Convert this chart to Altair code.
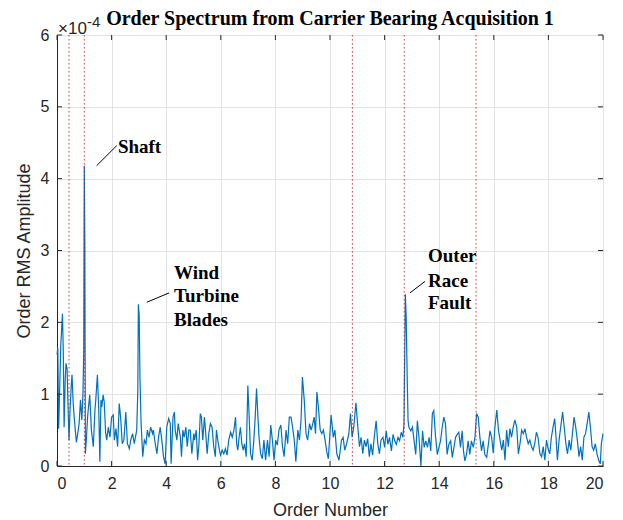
import altair as alt
import pandas as pd

# Spectrum (order number, amplitude in units of 1e-4)
orders = [0.0, 0.03, 0.06, 0.1, 0.14, 0.2, 0.23, 0.26, 0.3, 0.33, 0.37, 0.4, 0.44, 0.48, 0.52, 0.55, 0.59, 0.63, 0.67, 0.71,
          0.76, 0.81, 0.86, 0.91, 0.95, 0.98, 1.0, 1.02, 1.04, 1.08, 1.12, 1.16, 1.2, 1.26, 1.33, 1.39, 1.42, 1.48, 1.53, 1.57,
          1.61, 1.64, 1.69, 1.73, 1.78, 1.82, 1.88, 1.94, 2.0, 2.06, 2.1, 2.16, 2.22, 2.28, 2.33, 2.39, 2.45, 2.52, 2.58, 2.65,
          2.7, 2.77, 2.83, 2.92, 2.96, 2.98, 3.01, 3.04, 3.08, 3.14, 3.2, 3.26, 3.31, 3.37, 3.43, 3.5, 3.53, 3.6, 3.66, 3.72,
          3.78, 3.84, 3.9, 3.96, 4.02, 4.09, 4.15, 4.18, 4.25, 4.3, 4.33, 4.39, 4.44, 4.52, 4.56, 4.61, 4.66, 4.72, 4.77, 4.83,
          4.88, 4.94, 5.01, 5.04, 5.1, 5.15, 5.2, 5.25, 5.29, 5.34, 5.4, 5.44, 5.5, 5.56, 5.62, 5.68, 5.74, 5.8, 5.84, 5.89,
          5.95, 5.99, 6.05, 6.11, 6.17, 6.23, 6.29, 6.36, 6.42, 6.48, 6.54, 6.58, 6.62, 6.67, 6.72, 6.77, 6.82, 6.87, 6.93, 6.99,
          7.04, 7.09, 7.15, 7.21, 7.26, 7.31, 7.36, 7.4, 7.46, 7.52, 7.58, 7.64, 7.71, 7.77, 7.83, 7.89, 7.95, 8.01, 8.07, 8.13,
          8.2, 8.26, 8.32, 8.39, 8.45, 8.51, 8.57, 8.63, 8.69, 8.75, 8.82, 8.88, 8.94, 8.99, 9.06, 9.12, 9.18, 9.25, 9.31, 9.37,
          9.42, 9.47, 9.52, 9.58, 9.64, 9.7, 9.76, 9.82, 9.88, 9.94, 10.04, 10.12, 10.18, 10.25, 10.33, 10.42, 10.48, 10.54, 10.61, 10.69,
          10.75, 10.81, 10.87, 10.95, 11.02, 11.08, 11.14, 11.2, 11.26, 11.32, 11.38, 11.44, 11.5, 11.56, 11.62, 11.69, 11.75, 11.81, 11.87, 11.94,
          12.0, 12.06, 12.12, 12.18, 12.25, 12.31, 12.37, 12.43, 12.49, 12.55, 12.61, 12.67, 12.71, 12.76, 12.79, 12.83, 12.86, 12.89, 12.96, 13.02,
          13.08, 13.14, 13.2, 13.26, 13.33, 13.39, 13.45, 13.51, 13.57, 13.63, 13.69, 13.75, 13.8, 13.86, 13.93, 13.99, 14.05, 14.11, 14.17, 14.23,
          14.29, 14.35, 14.42, 14.48, 14.54, 14.6, 14.66, 14.72, 14.78, 14.84, 14.89, 14.94, 15.0, 15.06, 15.12, 15.18, 15.25, 15.31, 15.37, 15.43,
          15.49, 15.55, 15.61, 15.67, 15.74, 15.8, 15.86, 15.92, 15.98, 16.04, 16.11, 16.17, 16.23, 16.29, 16.35, 16.41, 16.47, 16.53, 16.59, 16.65,
          16.71, 16.77, 16.84, 16.9, 16.96, 17.02, 17.08, 17.14, 17.2, 17.26, 17.32, 17.38, 17.44, 17.5, 17.56, 17.62, 17.69, 17.75, 17.81, 17.87,
          17.93, 17.99, 18.05, 18.11, 18.17, 18.23, 18.28, 18.33, 18.39, 18.45, 18.52, 18.58, 18.64, 18.7, 18.76, 18.82, 18.88, 18.94, 19.0, 19.06,
          19.12, 19.18, 19.24, 19.3, 19.36, 19.42, 19.48, 19.54, 19.6, 19.66, 19.72, 19.78, 19.84, 19.9, 19.94, 20.0]
amplitude = [1.55, 1.64, 0.52, 1.1, 1.7, 2.12, 1.6, 0.54, 1.2, 1.43, 1.35, 0.9, 0.36, 0.8, 1.1, 1.27, 0.9, 0.68, 0.5, 0.33,
             0.45, 0.59, 0.92, 0.64, 1.0, 1.6, 4.18, 3.05, 0.17, 0.4, 0.68, 0.85, 0.99, 0.5, 0.27, 0.78, 0.92, 1.27, 0.78, 0.06,
             0.92, 0.82, 0.99, 0.89, 0.47, 0.36, 0.54, 0.4, 0.68, 0.71, 0.36, 0.52, 0.27, 0.87, 0.68, 0.31, 0.36, 0.75, 0.31, 0.24,
             0.36, 0.45, 0.31, 0.5, 1.05, 2.25, 2.1, 1.2, 0.6, 0.13, 0.36, 0.31, 0.5, 0.4, 0.54, 0.45, 0.5, 0.31, 0.17, 0.4,
             0.54, 0.36, 0.13, 0.03, 0.54, 0.66, 0.59, 0.03, 0.68, 0.75, 0.5, 0.36, 0.59, 0.4, 0.13, 0.5, 0.4, 0.54, 0.27, 0.5,
             0.5, 0.17, 0.45, 0.36, 0.5, 0.08, 0.31, 0.73, 0.68, 0.36, 0.68, 0.5, 0.17, 0.45, 0.59, 0.54, 0.27, 0.13, 0.5, 0.36,
             0.22, 0.15, 0.22, 0.17, 0.24, 0.15, 0.36, 0.47, 0.4, 0.5, 0.68, 0.31, 0.22, 0.4, 0.54, 0.31, 0.22, 0.31, 0.13, 1.12,
             0.68, 0.17, 0.08, 0.36, 0.68, 1.08, 0.68, 0.4, 0.17, 0.1, 0.36, 0.08, 0.36, 0.13, 0.57, 0.36, 0.08, 0.36, 0.29, 0.5,
             0.57, 0.27, 0.13, 0.5, 0.31, 0.68, 0.68, 0.54, 0.36, 0.06, 0.5, 0.36, 0.64, 1.24, 0.9, 0.45, 0.36, 0.59, 0.5, 0.59,
             0.68, 0.45, 1.03, 0.8, 0.5, 0.45, 0.5, 0.36, 0.2, 0.1, 0.71, 0.4, 0.5, 0.17, 0.08, 0.36, 0.4, 0.22, 0.31, 0.45,
             0.73, 0.4, 0.54, 0.88, 0.54, 0.27, 0.4, 0.17, 0.36, 0.27, 0.38, 0.13, 0.31, 0.15, 0.4, 0.63, 0.31, 0.17, 0.36, 0.4,
             0.26, 0.49, 0.3, 0.4, 0.21, 0.44, 0.35, 0.3, 0.4, 0.35, 0.47, 0.4, 0.59, 2.39, 2.08, 1.19, 0.63, 0.54, 0.49, 0.54,
             0.35, 0.16, 0.63, 0.4, 0.0, 0.49, 0.26, 0.35, 0.26, 0.4, 0.21, 0.73, 0.77, 0.44, 0.16, 0.26, 0.35, 0.54, 0.68, 0.59,
             0.16, 0.3, 0.35, 0.12, 0.26, 0.4, 0.44, 0.47, 0.26, 0.49, 0.21, 0.07, 0.16, 0.35, 0.16, 0.35, 0.26, 0.4, 0.73, 0.68,
             0.4, 0.21, 0.35, 0.16, 0.12, 0.3, 0.49, 0.4, 0.18, 0.54, 0.78, 0.5, 0.36, 0.22, 0.36, 0.08, 0.5, 0.27, 0.52, 0.4,
             0.54, 0.64, 0.54, 0.17, 0.31, 0.5, 0.45, 0.52, 0.4, 0.31, 0.36, 0.27, 0.22, 0.31, 0.47, 0.4, 0.17, 0.13, 0.27, 0.08,
             0.36, 0.24, 0.17, 0.4, 0.54, 0.66, 0.4, 0.08, 0.36, 0.54, 0.75, 0.54, 0.31, 0.17, 0.36, 0.22, 0.45, 0.68, 0.54, 0.36,
             0.13, 0.27, 0.08, 0.4, 0.45, 0.59, 0.75, 0.54, 0.27, 0.22, 0.31, 0.17, 0.08, 0.03, 0.31, 0.45]

# Reference (dotted red) order lines
marker_orders = [0.44, 1.0, 10.82, 12.72, 15.35]

# Axis ticks
x_ticks = [0, 2, 4, 6, 8, 10, 12, 14, 16, 18, 20]
y_ticks = [0, 1, 2, 3, 4, 5, 6]

# Annotations (text lines and pointer segments, in data units)
note_text = ["Shaft", "Wind", "Turbine", "Blades", "Outer", "Race", "Fault"]
note_x = [2.23, 4.29, 4.29, 4.29, 13.59, 13.59, 13.59]
note_y = [4.44, 2.69, 2.36, 2.03, 2.92, 2.57, 2.27]
ptr_x1 = [1.45, 3.29, 12.93]
ptr_y1 = [4.18, 2.28, 2.41]
ptr_x2 = [2.19, 4.11, 13.48]
ptr_y2 = [4.46, 2.41, 2.57]

W, H = 546, 431
AX = "#262626"
SANS = "Liberation Sans"
SERIF = "Liberation Serif"

spec = pd.DataFrame({"order": orders, "amp": amplitude})
marks = pd.DataFrame({"order": marker_orders})
xt = pd.DataFrame({"v": x_ticks})
yt = pd.DataFrame({"v": y_ticks})
notes = pd.DataFrame({"t": note_text, "x": note_x, "y": note_y})
ptrs = pd.DataFrame({"x": ptr_x1, "y": ptr_y1, "x2": ptr_x2, "y2": ptr_y2})

xscale = alt.Scale(domain=[0, 20], nice=False, zero=False)
yscale = alt.Scale(domain=[0, 6], nice=False)

xaxis = alt.Axis(values=x_ticks, format="d", grid=True, ticks=False, title="Order Number",
                 labelFontSize=16, titleFontSize=18, labelFont=SANS, titleFont=SANS,
                 labelColor=AX, titleColor=AX, titleFontWeight="normal",
                 domainColor=AX, gridColor="#e3e3e3", labelPadding=9, titlePadding=10)
yaxis = alt.Axis(values=y_ticks, format="d", grid=True, ticks=False, title="Order RMS Amplitude",
                 labelFontSize=16, titleFontSize=18, labelFont=SANS, titleFont=SANS,
                 labelColor=AX, titleColor=AX, titleFontWeight="normal",
                 domainColor=AX, gridColor="#e3e3e3", labelPadding=8, titlePadding=7)

base_line = alt.Chart(spec).mark_line(color="#0072BD", strokeWidth=1.2).encode(
    x=alt.X("order:Q", scale=xscale, axis=xaxis),
    y=alt.Y("amp:Q", scale=yscale, axis=yaxis),
)

red = alt.Chart(marks).mark_rule(color="#FF0000", strokeDash=[1.5, 2.5], strokeWidth=1, opacity=0.85).encode(
    x=alt.X("order:Q", scale=xscale),
    y=alt.value(0), y2=alt.value(H),
)

tb = alt.Chart(xt).mark_rule(color=AX, strokeWidth=1).encode(
    x=alt.X("v:Q", scale=xscale), y=alt.value(H), y2=alt.value(H - 5))
tt = alt.Chart(xt).mark_rule(color=AX, strokeWidth=1).encode(
    x=alt.X("v:Q", scale=xscale), y=alt.value(0), y2=alt.value(5))
tl = alt.Chart(yt).mark_rule(color=AX, strokeWidth=1).encode(
    y=alt.Y("v:Q", scale=yscale), x=alt.value(0), x2=alt.value(5))
tr = alt.Chart(yt).mark_rule(color=AX, strokeWidth=1).encode(
    y=alt.Y("v:Q", scale=yscale), x=alt.value(W), x2=alt.value(W - 5))

pointers = alt.Chart(ptrs).mark_rule(color="black", strokeWidth=1).encode(
    x=alt.X("x:Q", scale=xscale), y=alt.Y("y:Q", scale=yscale), x2="x2:Q", y2="y2:Q")

texts = alt.Chart(notes).mark_text(font=SERIF, fontSize=19, fontWeight="bold", color="black",
                                   align="left", baseline="middle").encode(
    x=alt.X("x:Q", scale=xscale), y=alt.Y("y:Q", scale=yscale), text="t:N")

exp1 = alt.Chart(pd.DataFrame({"t": ["\u00d710"]})).mark_text(
    font=SANS, fontSize=17, color=AX, align="left", baseline="middle").encode(
    x=alt.value(1), y=alt.value(-6), text="t:N")
exp2 = alt.Chart(pd.DataFrame({"t": ["-4"]})).mark_text(
    font=SANS, fontSize=15, color=AX, align="left", baseline="middle").encode(
    x=alt.value(30), y=alt.value(-13), text="t:N")

chart = alt.layer(base_line, red, tb, tt, tl, tr, pointers, texts, exp1, exp2).properties(
    width=W, height=H,
    title=alt.TitleParams("Order Spectrum from Carrier Bearing Acquisition 1", font=SERIF, fontSize=20,
                          fontWeight="bold", color="black", anchor="middle", frame="group", offset=11, dy=25),
    autosize=alt.AutoSizeParams(type="none"),
    padding={"left": 49, "top": 27, "right": 12, "bottom": 52},
).configure_view(stroke=AX, strokeWidth=1).configure(background="white")

chart.save("out.html", embed_options={"renderer": "svg", "actions": False})
